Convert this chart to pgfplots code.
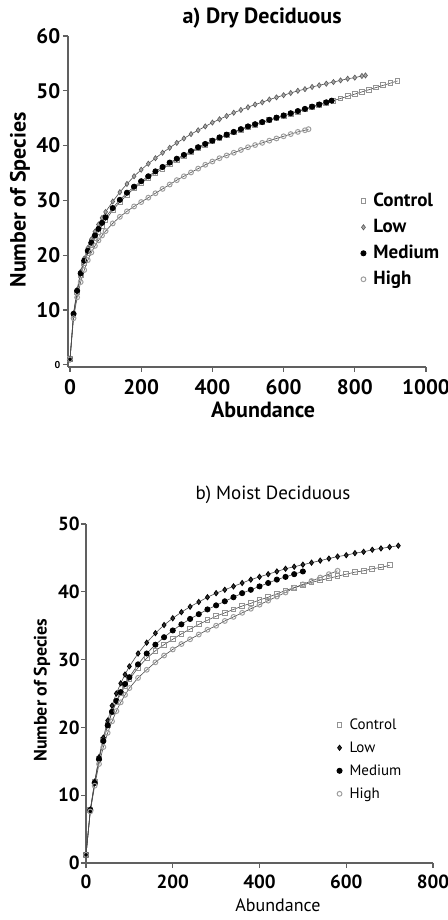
\documentclass[border=0pt]{standalone}
\usepackage{fontspec}
\setmainfont{PT Sans}
\usepackage{pgfplots}
\usepackage{pgfplotstable}
\pgfplotsset{compat=1.18}

% a) Dry Deciduous -- rarefaction curves
\pgfplotstableread{
x   C    L    M    H
0   1.0  1.0  1.0  1.0
10  9.1  9.4  9.3  8.5
20  13.2 13.7 13.5 12.3
30  16.3 17.0 16.7 15.1
40  18.6 19.4 19.0 17.3
50  20.3 21.3 20.8 19.1
60  21.8 22.9 22.3 20.5
70  23.1 24.3 23.6 21.7
80  24.3 25.6 24.8 22.7
90  25.4 26.8 25.9 23.6
100 26.4 27.9 26.9 24.4
120 28.2 29.8 28.6 25.8
140 29.7 31.5 30.1 27.0
160 31.0 33.0 31.4 28.0
180 32.2 34.4 32.5 28.9
200 33.2 35.6 33.5 29.7
220 34.1 36.7 34.4 30.5
240 35.0 37.7 35.3 31.3
260 35.8 38.7 36.1 32.1
280 36.6 39.6 36.9 32.9
300 37.4 40.5 37.6 33.7
320 38.1 41.3 38.3 34.4
340 38.8 42.1 39.0 35.1
360 39.5 42.8 39.7 35.8
380 40.1 43.5 40.3 36.5
400 40.8 44.2 40.9 37.1
420 41.4 44.8 41.5 37.7
440 41.9 45.4 42.0 38.2
460 42.4 46.0 42.5 38.7
480 42.9 46.5 43.0 39.2
500 43.4 47.0 43.5 39.7
520 43.8 47.5 43.9 40.1
540 44.2 47.9 44.3 40.5
560 44.6 48.4 44.7 40.9
580 45.0 48.8 45.1 41.3
600 45.4 49.2 45.5 41.7
620 45.8 49.6 45.9 42.1
640 46.2 50.0 46.3 42.5
660 46.6 50.3 46.7 42.8
670 nan  nan  nan  43.0
680 47.0 50.7 47.1 nan
700 47.4 51.0 47.5 nan
720 47.8 51.3 47.9 nan
735 nan  nan  48.2 nan
740 48.2 51.6 nan  nan
760 48.6 51.9 nan  nan
780 49.0 52.2 nan  nan
800 49.4 52.4 nan  nan
820 49.8 52.7 nan  nan
830 nan  52.8 nan  nan
840 50.2 nan  nan  nan
860 50.6 nan  nan  nan
880 51.0 nan  nan  nan
900 51.4 nan  nan  nan
920 51.8 nan  nan  nan
}\dryTable

% b) Moist Deciduous
\pgfplotstableread{
x   C    L    M    H
0   1.2  1.2  1.2  1.2
10  7.8  7.9  7.8  7.6
20  11.9 12.0 11.8 11.4
30  15.4 15.6 15.3 14.6
40  18.2 18.5 18.0 17.1
50  20.4 21.0 20.3 19.2
60  22.2 23.2 22.3 20.9
70  23.7 25.0 23.9 22.4
80  25.0 26.5 25.2 23.7
90  26.1 27.8 26.4 24.8
100 27.1 29.0 27.4 25.8
120 28.8 30.9 29.3 27.3
140 30.2 32.5 30.9 28.5
160 31.3 33.9 32.2 29.6
180 32.2 35.1 33.3 30.6
200 33.0 36.1 34.3 31.5
220 33.8 37.0 35.2 32.3
240 34.5 37.8 36.0 33.0
260 35.2 38.5 36.7 33.7
280 35.8 39.2 37.4 34.4
300 36.4 39.8 38.0 35.0
320 36.9 40.3 38.6 35.7
340 37.4 40.8 39.2 36.3
360 37.9 41.3 39.8 36.9
380 38.3 41.8 40.3 37.5
400 38.8 42.2 40.8 38.1
420 39.2 42.6 41.3 38.7
440 39.7 43.0 41.8 39.3
460 40.2 43.4 42.2 39.9
480 40.6 43.7 42.6 40.6
500 41.0 44.0 43.0 41.1
520 41.4 44.3 nan  41.6
540 41.7 44.6 nan  42.1
560 42.0 44.9 nan  42.6
580 42.3 45.2 nan  43.1
600 42.6 45.4 nan  nan
620 42.9 45.7 nan  nan
640 43.1 45.9 nan  nan
660 43.4 46.2 nan  nan
680 43.6 46.4 nan  nan
700 43.9 46.6 nan  nan
720 nan  46.8 nan  nan
}\moistTable

\pgfplotsset{
  rare/.style={
    scale only axis,
    axis x line*=bottom, axis y line*=left,
    axis line style={gray!75!black, line width=0.6pt},
    tick style={gray!75!black, line width=0.6pt},
    tick align=outside, major tick length=2.5pt,
    /pgf/number format/assume math mode=true,
    /pgf/number format/1000 sep={},
    every axis title shift=0pt,
    legend cell align=left,
    legend image code/.code={\path[draw=none,fill=none] (0pt,0pt) -- (5pt,0pt); \draw[#1] plot coordinates {(2pt,0pt)};},
    clip=false,
  },
  ctl/.style={only marks, mark=square, mark size=1.2pt, mark options={draw=gray!85, fill=white, line width=0.5pt}},
  low/.style={only marks, mark=diamond*, mark size=1.3pt, mark options={draw=gray!70!black, fill=gray!70, line width=0.3pt}},
  med/.style={only marks, mark=*, mark size=1.3pt, mark options={draw=black, fill=black}},
  hig/.style={only marks, mark=o, mark size=1.2pt, mark options={draw=gray!75, line width=0.5pt}},
  cline/.style={forget plot, line width=0.3pt, gray!60!black},
}

\begin{document}
\begin{tikzpicture}
\useasboundingbox (0,0) rectangle (224pt,460pt);

\begin{axis}[rare,
  at={(34pt,276.5pt)}, anchor=south west,
  width=179pt, height=165.5pt,
  xmin=-5.6, xmax=1000, ymin=-0.4, ymax=60,
  xtick={0,200,...,1000}, ytick={0,10,...,60},
  yticklabels={{\tiny 0},10,20,30,40,50,60},
  tick label style={font=\bfseries\fontsize{10.5}{12}\selectfont},
  yticklabel style={inner xsep=1.2pt},
  xlabel={Abundance}, ylabel={Number of Species},
  every axis y label/.style={at={(axis description cs:-0.134,0.505)}, rotate=90, anchor=center,
    font=\bfseries\fontsize{11}{13}\selectfont},
  every axis x label/.style={at={(axis description cs:0.545,-0.13)}, anchor=center,
    font=\bfseries\fontsize{11}{13}\selectfont},
  title={a) Dry Deciduous},
  title style={at={(axis description cs:0.542,1.054)}, anchor=center, font=\bfseries\fontsize{11}{13}\selectfont},
  legend style={at={(axis description cs:0.813,0.529)}, anchor=north west, draw=none, fill=none,
    font=\bfseries\fontsize{9.5}{11}\selectfont, row sep=4pt, inner sep=0pt,
    nodes={text height=7pt, text depth=2pt, inner ysep=0pt}},
]
\addplot[cline] table[x=x,y=C]{\dryTable};
\addplot[cline] table[x=x,y=L]{\dryTable};
\addplot[cline] table[x=x,y=M]{\dryTable};
\addplot[cline] table[x=x,y=H]{\dryTable};
\addplot[ctl] table[x=x,y=C]{\dryTable};
\addlegendentry{Control}
\addplot[low] table[x=x,y=L]{\dryTable};
\addlegendentry{Low}
\addplot[med] table[x=x,y=M]{\dryTable};
\addlegendentry{Medium}
\addplot[hig] table[x=x,y=H]{\dryTable};
\addlegendentry{High}
\end{axis}

\begin{axis}[rare,
  at={(43pt,28.5pt)}, anchor=south west,
  width=173.5pt, height=169.5pt,
  xmin=0, xmax=800, ymin=0, ymax=50,
  xtick={0,200,...,800}, ytick={0,10,...,50},
  tick label style={font=\bfseries\fontsize{9.5}{11}\selectfont},
  yticklabel style={inner xsep=0.5pt},
  xlabel={Abundance}, ylabel={Number of Species},
  every axis y label/.style={at={(axis description cs:-0.127,0.51)}, rotate=90, anchor=center,
    font=\bfseries\fontsize{9}{11}\selectfont},
  every axis x label/.style={at={(axis description cs:0.553,-0.124)}, anchor=center,
    font=\fontsize{9}{11}\selectfont},
  title={b) Moist Deciduous},
  title style={at={(axis description cs:0.539,1.085)}, anchor=center, font=\fontsize{9.5}{11}\selectfont},
  legend style={at={(axis description cs:0.718,0.431)}, anchor=north west, draw=none, fill=none,
    font=\fontsize{7.5}{9}\selectfont, row sep=4pt, inner sep=0pt,
    nodes={text height=6pt, text depth=1.5pt, inner ysep=0pt}},
]
\addplot[cline] table[x=x,y=C]{\moistTable};
\addplot[cline] table[x=x,y=L]{\moistTable};
\addplot[cline] table[x=x,y=M]{\moistTable};
\addplot[cline] table[x=x,y=H]{\moistTable};
\addplot[ctl] table[x=x,y=C]{\moistTable};
\addlegendentry{Control}
\addplot[low, mark options={draw=black, fill=gray!40!black}] table[x=x,y=L]{\moistTable};
\addlegendentry{Low}
\addplot[med] table[x=x,y=M]{\moistTable};
\addlegendentry{Medium}
\addplot[hig] table[x=x,y=H]{\moistTable};
\addlegendentry{High}
\end{axis}
\end{tikzpicture}
\end{document}
